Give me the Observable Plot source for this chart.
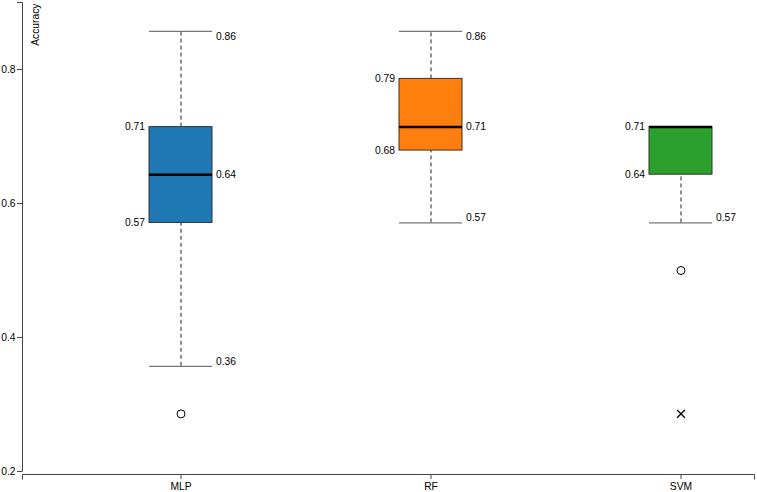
<!DOCTYPE html>
<html>
<head>
<meta charset="utf-8">
<script src="https://cdn.jsdelivr.net/npm/d3@7"></script>
<script src="https://cdn.jsdelivr.net/npm/@observablehq/plot@0.6"></script>
<style>
  body { margin: 0; background: #fff; }
  svg { display: block; }
</style>
</head>
<body>
<div id="chart"></div>
<script>
// ---- data ----
const models = ["MLP", "RF", "SVM"];
const colors = ["#1f77b4", "#ff7f0e", "#2ca02c"];
const whiskerLow = [0.357, 0.571, 0.571];
const q1 = [0.571, 0.679, 0.643];
const median = [0.643, 0.714, 0.714];
const q3 = [0.714, 0.786, 0.714];
const whiskerHigh = [0.857, 0.857, 0.714];
const outlierModels = ["MLP", "SVM"];
const outlierValues = [0.286, 0.5];
const extremeModels = ["SVM"];
const extremeValues = [0.286];
const yTicks = [0.2, 0.4, 0.6, 0.8];
const yLabel = "Accuracy";

const boxes = models.map((m, i) => ({
  model: m, low: whiskerLow[i], q1: q1[i], median: median[i], q3: q3[i], high: whiskerHigh[i]
}));
const outliers = outlierModels.map((m, i) => ({model: m, value: outlierValues[i]}));
const extremes = extremeModels.map((m, i) => ({model: m, value: extremeValues[i]}));
const fmt = d3.format(".2f");

const W = 757, H = 492;
const mL = 22, mR = 2, mT = 2, mB = 18;

const plot = Plot.plot({
  width: W,
  height: H,
  marginLeft: mL,
  marginRight: mR,
  marginTop: mT,
  marginBottom: mB,
  style: {fontFamily: "'Liberation Sans', Arial, Helvetica, sans-serif", fontSize: "10.3px", color: "#000", background: "#fff"},
  x: {domain: models, range: [148.75, 712.25], paddingInner: 0.75, paddingOuter: 0, label: null},
  y: {domain: [0.2, 0.9], insetBottom: 3, label: null},
  color: {domain: models, range: colors},
  marks: [
    Plot.axisY({ticks: yTicks, tickFormat: d3.format(".1f"), tickSize: 5, tickPadding: 2, stroke: "#444", fill: "#000", label: null}),
    Plot.axisX({tickSize: 5, tickPadding: 3, stroke: "#444", fill: "#000", label: null}),
    Plot.text([yLabel], {frameAnchor: "top-left", text: d => d, rotate: -90, textAnchor: "end", dx: 9.5, dy: 1, fill: "#000"}),
    // whiskers
    Plot.ruleX(boxes, {x: "model", y1: "q3", y2: "high", stroke: "#222", strokeDasharray: "4,3"}),
    Plot.ruleX(boxes, {x: "model", y1: "low", y2: "q1", stroke: "#222", strokeDasharray: "4,3"}),
    Plot.tickY(boxes, {x: "model", y: "high", stroke: "#555"}),
    Plot.tickY(boxes, {x: "model", y: "low", stroke: "#555"}),
    // boxes
    Plot.barY(boxes, {x: "model", y1: "q1", y2: "q3", fill: "model", stroke: "#333", strokeWidth: 1}),
    Plot.tickY(boxes, {x: "model", y: "median", stroke: "#000", strokeWidth: 2.5}),
    // outliers
    Plot.dot(outliers, {x: "model", y: "value", r: 4, fill: "#fff", stroke: "#000", strokeWidth: 1}),
    Plot.dot(extremes, {x: "model", y: "value", symbol: "times", r: 3.6, stroke: "#000", strokeWidth: 1.3}),
    // value labels
    Plot.text(boxes, {x: "model", y: "q3", text: d => fmt(d.q3), dx: -36, textAnchor: "end", fill: "#000"}),
    Plot.text(boxes, {x: "model", y: "q1", text: d => fmt(d.q1), dx: -36, textAnchor: "end", fill: "#000"}),
    Plot.text(boxes.filter(d => d.high > d.q3), {x: "model", y: "high", text: d => fmt(d.high), dx: 35, dy: 5, textAnchor: "start", fill: "#000"}),
    Plot.text(boxes.filter(d => d.median !== d.q3 && d.median !== d.q1), {x: "model", y: "median", text: d => fmt(d.median), dx: 35, textAnchor: "start", fill: "#000"}),
    Plot.text(boxes.filter(d => d.low < d.q1), {x: "model", y: "low", text: d => fmt(d.low), dx: 35, dy: -5, textAnchor: "start", fill: "#000"})
  ]
});

// axis domain lines (d3-style, with outer ticks), placed from Plot's own scales
const ys = plot.scale("y");
const yTop = Math.round(ys.apply(ys.domain[1])) + 0.5;
const yBot = Math.round(ys.apply(ys.domain[0])) + 0.5;
const xAxisY = H - mB + 0.5;
const sel = d3.select(plot);
sel.append("path")
  .attr("d", `M${mL - 5},${yTop}H${mL + 0.5}V${yBot}`)
  .attr("fill", "none").attr("stroke", "#444");
sel.append("path")
  .attr("d", `M${mL + 0.5},${xAxisY + 5}V${xAxisY}H${W - mR - 0.5}V${xAxisY + 5}`)
  .attr("fill", "none").attr("stroke", "#444");

document.getElementById("chart").append(plot);
</script>
</body>
</html>
